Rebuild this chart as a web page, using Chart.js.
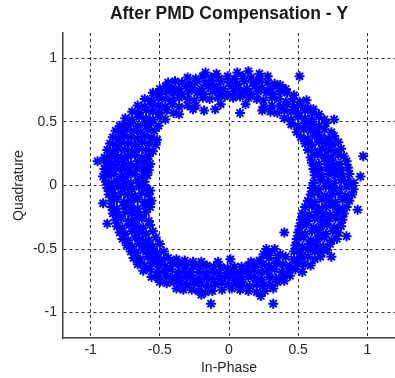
<!DOCTYPE html>
<html>
<head>
<meta charset="utf-8">
<script src="https://cdn.jsdelivr.net/npm/chart.js@4.4.1/dist/chart.umd.min.js"></script>
<style>
  html, body { margin: 0; padding: 0; background: #fff; }
</style>
</head>
<body>
<canvas id="myChart" width="395" height="378"></canvas>
<script>
// Constellation points ([in-phase, quadrature])
const upperArc = [
  [-0.17,0.89],[-0.09,0.88],[0.06,0.89],[0.14,0.9],[0.22,0.88],[0.51,0.86],
  [-0.3,0.85],[-0.24,0.84],[-0.19,0.86],[-0.13,0.85],[-0.07,0.84],[-0.01,0.86],[0.04,0.84],[0.1,0.86],[0.16,0.85],[0.22,0.84],[0.28,0.86],
  [-0.44,0.81],[-0.39,0.82],[-0.34,0.81],[-0.28,0.8],[-0.23,0.82],[-0.17,0.81],[-0.12,0.8],[-0.06,0.82],[0,0.81],[0.06,0.8],[0.11,0.82],[0.17,0.81],[0.22,0.82],[0.28,0.81],[0.33,0.8],[0.37,0.79],
  [-0.5,0.76],[-0.46,0.78],[-0.41,0.77],[-0.36,0.76],[-0.31,0.78],[-0.26,0.77],[-0.2,0.76],[-0.15,0.78],[-0.09,0.77],[-0.04,0.76],[0.02,0.78],[0.07,0.77],[0.13,0.76],[0.19,0.78],[0.24,0.77],[0.3,0.76],[0.35,0.78],[0.41,0.76],
  [-0.55,0.73],[-0.5,0.72],[-0.45,0.74],[-0.4,0.73],[-0.34,0.72],[-0.29,0.74],[-0.23,0.73],[-0.18,0.72],[-0.12,0.74],[-0.07,0.73],[-0.01,0.72],[0.04,0.74],[0.1,0.73],[0.16,0.72],[0.21,0.74],[0.27,0.73],[0.32,0.72],[0.37,0.74],[0.42,0.73],[0.47,0.71],
  [-0.61,0.68],[-0.56,0.67],[-0.51,0.69],[-0.46,0.68],[-0.41,0.67],[-0.36,0.69],[-0.3,0.68],[-0.25,0.67],[-0.19,0.69],[-0.14,0.68],[-0.08,0.69],[-0.03,0.7],[0.03,0.69],[0.08,0.7],[0.14,0.69],[0.2,0.68],[0.25,0.67],[0.31,0.69],[0.36,0.68],[0.41,0.66],[0.46,0.68],[0.51,0.66],[0.56,0.67],
  [-0.66,0.63],[-0.61,0.62],[-0.56,0.64],[-0.51,0.63],[-0.46,0.62],[-0.41,0.64],[-0.36,0.62],[-0.3,0.63],[-0.24,0.63],[-0.06,0.64],[0.12,0.64],[0.25,0.62],[0.31,0.63],[0.37,0.62],[0.42,0.64],[0.47,0.62],[0.52,0.63],[0.57,0.61],[0.61,0.6],
  [-0.26,0.6],[-0.18,0.59],[-0.1,0.6],[0.08,0.57],[0.24,0.59]
];

const leftArc = [
  [-0.7,0.58],[-0.65,0.57],[-0.6,0.59],[-0.55,0.58],[-0.5,0.57],[-0.45,0.59],[-0.4,0.57],[-0.36,0.56],
  [-0.75,0.53],[-0.7,0.52],[-0.65,0.54],[-0.6,0.53],[-0.55,0.52],[-0.5,0.54],[-0.46,0.52],
  [-0.79,0.47],[-0.75,0.48],[-0.71,0.49],[-0.66,0.47],[-0.61,0.48],[-0.56,0.49],[-0.51,0.47],
  [-0.82,0.43],[-0.78,0.42],[-0.74,0.44],[-0.69,0.43],[-0.64,0.42],[-0.59,0.44],[-0.54,0.43],
  [-0.84,0.38],[-0.8,0.37],[-0.76,0.39],[-0.71,0.38],[-0.66,0.37],[-0.61,0.39],[-0.56,0.38],[-0.52,0.36],
  [-0.86,0.33],[-0.82,0.32],[-0.78,0.34],[-0.73,0.33],[-0.68,0.32],[-0.63,0.34],[-0.58,0.33],[-0.53,0.32],
  [-0.88,0.28],[-0.84,0.27],[-0.8,0.29],[-0.75,0.28],[-0.7,0.27],[-0.65,0.29],[-0.6,0.28],[-0.55,0.27],
  [-0.9,0.22],[-0.86,0.23],[-0.82,0.24],[-0.78,0.22],[-0.73,0.23],[-0.68,0.24],[-0.63,0.22],[-0.58,0.23],
  [-0.95,0.19],[-0.89,0.18],[-0.85,0.17],[-0.81,0.19],[-0.76,0.18],[-0.71,0.17],[-0.66,0.19],[-0.61,0.18],[-0.57,0.17],
  [-0.9,0.13],[-0.86,0.12],[-0.82,0.14],[-0.77,0.13],[-0.72,0.12],[-0.67,0.14],[-0.62,0.13],[-0.58,0.12],
  [-0.91,0.07],[-0.87,0.08],[-0.83,0.09],[-0.78,0.07],[-0.73,0.08],[-0.68,0.09],[-0.63,0.07],[-0.59,0.08],
  [-0.89,0.03],[-0.85,0.02],[-0.81,0.04],[-0.76,0.03],[-0.71,0.02],[-0.66,0.04],[-0.61,0.03],
  [-0.88,-0.02],[-0.84,-0.03],[-0.8,-0.01],[-0.75,-0.02],[-0.7,-0.03],[-0.65,-0.01],[-0.6,-0.02],[-0.57,-0.04],
  [-0.87,-0.07],[-0.83,-0.08],[-0.78,-0.06],[-0.73,-0.07],[-0.68,-0.08],[-0.63,-0.06],[-0.58,-0.07],
  [-0.91,-0.14],[-0.85,-0.12],[-0.81,-0.11],[-0.76,-0.13],[-0.71,-0.12],[-0.66,-0.11],[-0.61,-0.13],[-0.56,-0.12],
  [-0.85,-0.17],[-0.81,-0.18],[-0.76,-0.16],[-0.71,-0.17],[-0.66,-0.18],[-0.61,-0.16],[-0.57,-0.17],
  [-0.84,-0.22],[-0.8,-0.23],[-0.75,-0.21],[-0.7,-0.22],[-0.65,-0.23],[-0.6,-0.21],
  [-0.88,-0.3],[-0.82,-0.27],[-0.78,-0.26],[-0.73,-0.28],[-0.68,-0.27],[-0.63,-0.26],[-0.58,-0.28],
  [-0.81,-0.32],[-0.77,-0.33],[-0.72,-0.31],[-0.67,-0.32],[-0.62,-0.33],[-0.57,-0.31],
  [-0.79,-0.37],[-0.75,-0.38],[-0.7,-0.36],[-0.65,-0.37],[-0.6,-0.38],[-0.55,-0.36],
  [-0.77,-0.42],[-0.73,-0.43],[-0.68,-0.41],[-0.63,-0.42],[-0.58,-0.43],[-0.53,-0.41],
  [-0.74,-0.47],[-0.7,-0.48],[-0.65,-0.46],[-0.6,-0.47],[-0.55,-0.48],[-0.5,-0.46],
  [-0.71,-0.52],[-0.67,-0.53],[-0.62,-0.51],[-0.57,-0.52],[-0.52,-0.53],[-0.47,-0.52]
];

const rightArc = [
  [0.3,0.58],[0.35,0.57],[0.4,0.59],[0.45,0.58],[0.5,0.57],[0.55,0.59],[0.6,0.57],[0.65,0.56],
  [0.4,0.53],[0.45,0.52],[0.5,0.54],[0.55,0.53],[0.6,0.52],[0.65,0.54],[0.69,0.52],[0.76,0.52],
  [0.45,0.48],[0.5,0.47],[0.55,0.49],[0.6,0.48],[0.65,0.47],[0.7,0.49],
  [0.49,0.42],[0.54,0.44],[0.59,0.43],[0.64,0.42],[0.69,0.44],[0.74,0.42],
  [0.52,0.38],[0.57,0.37],[0.62,0.39],[0.67,0.38],[0.72,0.37],[0.76,0.39],
  [0.55,0.33],[0.6,0.32],[0.65,0.34],[0.7,0.33],[0.75,0.32],[0.79,0.34],
  [0.57,0.28],[0.62,0.27],[0.67,0.29],[0.72,0.28],[0.77,0.27],[0.81,0.29],
  [0.59,0.22],[0.64,0.24],[0.69,0.23],[0.74,0.22],[0.79,0.24],[0.83,0.23],[0.97,0.23],
  [0.6,0.18],[0.65,0.17],[0.7,0.19],[0.75,0.18],[0.8,0.17],[0.85,0.19],
  [0.61,0.13],[0.66,0.12],[0.71,0.14],[0.76,0.13],[0.81,0.12],[0.86,0.14],
  [0.62,0.08],[0.67,0.07],[0.72,0.09],[0.77,0.08],[0.82,0.07],[0.87,0.09],[0.95,0.07],
  [0.61,0.02],[0.66,0.04],[0.71,0.03],[0.76,0.02],[0.81,0.04],[0.86,0.03],[0.9,0.02],
  [0.6,-0.02],[0.65,-0.03],[0.7,-0.01],[0.75,-0.02],[0.8,-0.03],[0.85,-0.01],[0.9,-0.03],
  [0.59,-0.07],[0.64,-0.06],[0.69,-0.08],[0.74,-0.07],[0.79,-0.06],[0.84,-0.08],[0.89,-0.07],
  [0.57,-0.12],[0.62,-0.13],[0.67,-0.11],[0.72,-0.12],[0.77,-0.13],[0.82,-0.11],[0.87,-0.12],
  [0.55,-0.17],[0.6,-0.16],[0.65,-0.18],[0.7,-0.17],[0.75,-0.16],[0.8,-0.18],[0.85,-0.17],[0.93,-0.19],
  [0.53,-0.22],[0.58,-0.23],[0.63,-0.21],[0.68,-0.22],[0.73,-0.23],[0.78,-0.21],[0.83,-0.22],
  [0.52,-0.27],[0.57,-0.28],[0.62,-0.26],[0.67,-0.27],[0.72,-0.28],[0.77,-0.26],[0.82,-0.27],
  [0.51,-0.32],[0.56,-0.31],[0.61,-0.33],[0.66,-0.32],[0.71,-0.31],[0.76,-0.33],[0.81,-0.32],
  [0.4,-0.37],[0.5,-0.37],[0.55,-0.38],[0.6,-0.36],[0.65,-0.37],[0.7,-0.38],[0.75,-0.36],[0.79,-0.37],[0.85,-0.4],
  [0.49,-0.42],[0.54,-0.41],[0.59,-0.43],[0.64,-0.42],[0.69,-0.41],[0.74,-0.43],[0.78,-0.42],
  [0.48,-0.47],[0.53,-0.48],[0.58,-0.46],[0.63,-0.47],[0.68,-0.48],[0.73,-0.46],[0.27,-0.5],[0.33,-0.5],
  [0.25,-0.54],[0.3,-0.53],[0.37,-0.54],[0.47,-0.52],[0.52,-0.53],[0.57,-0.51],[0.62,-0.52],[0.67,-0.53],[0.71,-0.51]
];

const lowerArc = [
  [-0.69,-0.57],[-0.64,-0.58],[-0.59,-0.56],[-0.54,-0.57],[-0.49,-0.58],[-0.44,-0.57],[-0.38,-0.58],[-0.32,-0.59],[-0.26,-0.6],[-0.2,-0.6],[-0.08,-0.6],[0.01,-0.58],[0.16,-0.6],[0.22,-0.59],[0.29,-0.57],[0.35,-0.57],[0.41,-0.56],[0.47,-0.58],[0.52,-0.57],[0.57,-0.56],[0.62,-0.58],[0.66,-0.56],[0.74,-0.56],
  [-0.66,-0.62],[-0.61,-0.63],[-0.56,-0.61],[-0.51,-0.62],[-0.46,-0.63],[-0.41,-0.61],[-0.36,-0.62],[-0.31,-0.63],[-0.26,-0.63],[-0.21,-0.64],[-0.16,-0.63],[-0.11,-0.64],[-0.06,-0.64],[-0.01,-0.65],[0.04,-0.64],[0.09,-0.64],[0.14,-0.63],[0.19,-0.62],[0.24,-0.62],[0.29,-0.63],[0.34,-0.61],[0.39,-0.62],[0.44,-0.63],[0.49,-0.61],[0.54,-0.62],[0.59,-0.63],
  [-0.62,-0.67],[-0.57,-0.66],[-0.52,-0.68],[-0.47,-0.67],[-0.42,-0.66],[-0.37,-0.68],[-0.32,-0.67],[-0.27,-0.68],[-0.22,-0.68],[-0.17,-0.69],[-0.12,-0.68],[-0.07,-0.69],[-0.02,-0.69],[0.03,-0.68],[0.08,-0.69],[0.13,-0.68],[0.18,-0.67],[0.23,-0.68],[0.28,-0.67],[0.33,-0.66],[0.38,-0.68],[0.43,-0.67],[0.48,-0.66],[0.53,-0.68],
  [-0.56,-0.72],[-0.51,-0.73],[-0.46,-0.71],[-0.41,-0.72],[-0.36,-0.73],[-0.31,-0.72],[-0.26,-0.73],[-0.21,-0.74],[-0.16,-0.73],[-0.11,-0.74],[-0.06,-0.73],[-0.01,-0.72],[0.04,-0.73],[0.09,-0.74],[0.14,-0.72],[0.19,-0.73],[0.24,-0.74],[0.29,-0.72],[0.34,-0.73],[0.39,-0.72],[0.44,-0.71],
  [-0.5,-0.76],[-0.45,-0.77],[-0.4,-0.76],[-0.35,-0.77],[-0.3,-0.78],[-0.25,-0.77],[-0.2,-0.78],[-0.15,-0.79],[-0.1,-0.78],[-0.05,-0.77],[0,-0.78],[0.05,-0.77],[0.1,-0.78],[0.15,-0.79],[0.2,-0.78],[0.25,-0.79],[0.3,-0.78],[0.35,-0.76],[0.4,-0.75],
  [-0.38,-0.81],[-0.33,-0.82],[-0.27,-0.82],[-0.22,-0.83],[-0.17,-0.84],[-0.12,-0.83],[-0.05,-0.82],[0.02,-0.81],[0.08,-0.82],[0.14,-0.83],[0.2,-0.84],[0.26,-0.83],[0.32,-0.81],
  [-0.13,-0.93],[-0.2,-0.86],[0.23,-0.87],[0.32,-0.93]
];

const tickValues = [-1, -0.5, 0, 0.5, 1];
const tickLabels = ['-1', '-0.5', '0', '0.5', '1'];

Chart.defaults.font.family = "'Liberation Sans', Arial, sans-serif";
Chart.defaults.color = '#262626';

const points = [...upperArc, ...leftArc, ...rightArc, ...lowerArc].map(([x, y]) => ({ x, y }));

function fixedTicks(scale) {
    scale.ticks = tickValues.map(v => ({ value: v }));
}

function tickText(value) {
    return tickLabels[tickValues.indexOf(value)];
}

const ctx = document.getElementById('myChart').getContext('2d');
const myChart = new Chart(ctx, {
    type: 'scatter',
    data: {
        datasets: [{
            data: points,
            pointStyle: 'star',
            pointRadius: 5,
            borderColor: '#0000ff',
            backgroundColor: '#0000ff',
            borderWidth: 2
        }]
    },
    options: {
        responsive: false,
        animation: false,
        devicePixelRatio: 1,
        layout: { padding: 0, autoPadding: false },
        plugins: {
            legend: { display: false },
            tooltip: { enabled: false },
            title: {
                display: true,
                fullSize: false,
                text: 'After PMD Compensation - Y',
                color: '#1a1a1a',
                font: { size: 17.5, weight: 'bold' },
                padding: { top: 4, bottom: 8 }
            }
        },
        scales: {
            x: {
                type: 'linear',
                min: -1.2,
                max: 1.2,
                afterBuildTicks: fixedTicks,
                afterFit: scale => { scale.height = 40; },
                ticks: { callback: tickText, font: { size: 14 }, padding: 4, maxRotation: 0, autoSkip: false },
                grid: { color: '#333333', lineWidth: 1, drawTicks: false },
                border: { display: true, color: '#404040', width: 1.5, dash: [3, 3] },
                title: { display: true, text: 'In-Phase', font: { size: 14 }, padding: { top: 0, bottom: 1 } }
            },
            y: {
                type: 'linear',
                min: -1.2,
                max: 1.2,
                afterBuildTicks: fixedTicks,
                afterFit: scale => { scale.width = 63; },
                ticks: { callback: tickText, font: { size: 14 }, padding: 6, autoSkip: false },
                grid: { color: '#333333', lineWidth: 1, drawTicks: false },
                border: { display: true, color: '#404040', width: 1.5, dash: [3, 3] },
                title: { display: true, text: 'Quadrature', font: { size: 14 }, padding: { top: 11, bottom: 0 } }
            }
        }
    }
});
</script>
</body>
</html>
